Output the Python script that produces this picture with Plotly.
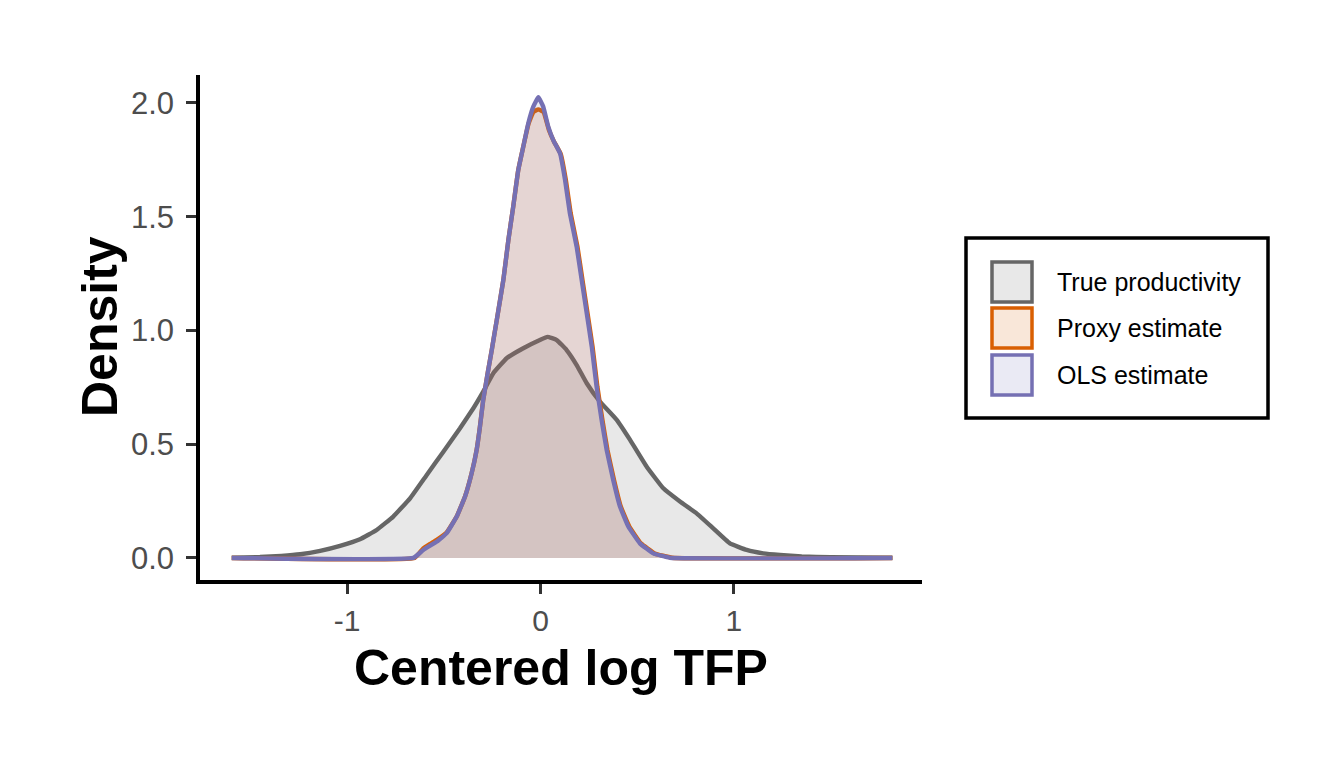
import plotly.graph_objects as go

# ---------------- data ----------------
x_true = [-1.596, -1.450, -1.340, -1.242, -1.139, -1.036, -0.933, -0.847, -0.761, -0.674,
          -0.588, -0.502, -0.416, -0.347, -0.296, -0.244, -0.175, -0.089, -0.003, 0.036,
          0.084, 0.135, 0.187, 0.239, 0.307, 0.394, 0.463, 0.549, 0.635, 0.721,
          0.807, 0.893, 0.979, 1.066, 1.151, 1.238, 1.350, 1.500, 1.819]
y_true = [0.001, 0.004, 0.009, 0.016, 0.031, 0.053, 0.082, 0.123, 0.182, 0.262,
          0.365, 0.467, 0.570, 0.658, 0.731, 0.812, 0.878, 0.922, 0.958, 0.972,
          0.958, 0.914, 0.848, 0.768, 0.687, 0.607, 0.519, 0.401, 0.306, 0.248,
          0.196, 0.130, 0.064, 0.035, 0.020, 0.013, 0.007, 0.003, 0.001]

x_ols = [-1.596, -0.657, -0.606, -0.536, -0.485, -0.433, -0.390, -0.356, -0.330, -0.313,
         -0.296, -0.273, -0.252, -0.226, -0.192, -0.166, -0.141, -0.115, -0.089, -0.063,
         -0.037, -0.011, 0.014, 0.040, 0.066, 0.101, 0.127, 0.152, 0.187, 0.213,
         0.239, 0.265, 0.290, 0.316, 0.342, 0.376, 0.411, 0.454, 0.514, 0.583,
         0.669, 1.819]
y_ols = [0.000, 0.000, 0.035, 0.072, 0.109, 0.182, 0.270, 0.372, 0.475, 0.577,
         0.695, 0.812, 0.914, 1.046, 1.222, 1.398, 1.544, 1.705, 1.808, 1.911,
         1.984, 2.025, 1.984, 1.896, 1.837, 1.779, 1.662, 1.515, 1.368, 1.222,
         1.076, 0.929, 0.753, 0.607, 0.475, 0.343, 0.226, 0.138, 0.064, 0.020,
         0.001, 0.000]

x_proxy = [-1.596, -0.650, -0.606, -0.570, -0.536, -0.485, -0.433, -0.390, -0.356, -0.330,
           -0.313, -0.296, -0.273, -0.252, -0.226, -0.192, -0.166, -0.141, -0.115, -0.089,
           -0.063, -0.037, -0.011, 0.016, 0.044, 0.070, 0.105, 0.131, 0.156, 0.191,
           0.217, 0.243, 0.269, 0.294, 0.320, 0.346, 0.380, 0.415, 0.459, 0.519,
           0.590, 0.680, 1.819]
y_proxy = [0.000, 0.000, 0.042, 0.062, 0.080, 0.112, 0.182, 0.270, 0.372, 0.475,
           0.577, 0.695, 0.812, 0.914, 1.046, 1.222, 1.398, 1.544, 1.705, 1.808,
           1.905, 1.960, 1.972, 1.960, 1.880, 1.830, 1.775, 1.662, 1.515, 1.368,
           1.222, 1.076, 0.929, 0.753, 0.607, 0.475, 0.343, 0.226, 0.138, 0.064,
           0.020, 0.001, 0.000]

series_names = ["True productivity", "Proxy estimate", "OLS estimate"]
line_colors = ["#666666", "#D95F02", "#7570B3"]
fill_colors = ["rgba(102,102,102,0.15)", "rgba(217,95,2,0.15)", "rgba(117,112,179,0.15)"]

x_tickvals = [-1, 0, 1]
x_ticktext = ["-1", "0", "1"]
y_tickvals = [0, 0.5, 1.0, 1.5, 2.0]
y_ticktext = ["0.0", "0.5", "1.0", "1.5", "2.0"]

x_title = "Centered log TFP"
y_title = "Density"

# ---------------- layout geometry ----------------
W, H = 1344, 768
PL, PR, PT, PB = 200, 922, 75, 580


def px_x(px):
    return (px - PL) / (PR - PL)


def px_y(py):
    return (PB - py) / (PB - PT)


FONT = "Liberation Sans, Arial, sans-serif"

fig = go.Figure()
for xs, ys, name, lc, fc in zip([x_true, x_proxy, x_ols], [y_true, y_proxy, y_ols],
                                series_names, line_colors, fill_colors):
    fig.add_trace(go.Scatter(
        x=xs, y=ys, name=name, mode="lines",
        line=dict(color=lc, width=4.4, shape="spline", smoothing=0.3),
        fill="tozeroy", fillcolor=fc, showlegend=False,
    ))

# ---------------- custom legend ----------------
shapes = []
annotations = []
shapes.append(dict(type="rect", xref="paper", yref="paper",
                   x0=px_x(966), x1=px_x(1268), y0=px_y(418), y1=px_y(238),
                   line=dict(color="black", width=3.5), fillcolor="white", layer="above"))
key_centers = [282, 328, 375]
for yc, name, lc, fc in zip(key_centers, series_names, line_colors, fill_colors):
    shapes.append(dict(type="rect", xref="paper", yref="paper",
                       x0=px_x(992), x1=px_x(1032), y0=px_y(yc + 20), y1=px_y(yc - 20),
                       line=dict(color=lc, width=3.5), fillcolor=fc, layer="above"))
    annotations.append(dict(text=name, xref="paper", yref="paper",
                            x=px_x(1055), y=px_y(yc), xanchor="left", yanchor="middle",
                            showarrow=False, font=dict(family=FONT, size=25, color="black")))

# axis titles
annotations.append(dict(text="<b>%s</b>" % x_title, xref="paper", yref="paper",
                        x=0.5, y=px_y(668), xanchor="center", yanchor="middle",
                        showarrow=False, font=dict(family=FONT, size=50, color="black")))
annotations.append(dict(text="<b>%s</b>" % y_title, xref="paper", yref="paper",
                        x=px_x(100), y=px_y(327), xanchor="center", yanchor="middle",
                        textangle=-90, showarrow=False,
                        font=dict(family=FONT, size=50, color="black")))

fig.update_layout(
    width=W, height=H,
    margin=dict(l=PL, r=W - PR, t=PT, b=H - PB, pad=0),
    paper_bgcolor="white", plot_bgcolor="white",
    shapes=shapes, annotations=annotations, showlegend=False,
    xaxis=dict(range=[-1.760, 1.972], tickvals=x_tickvals, ticktext=x_ticktext,
               showgrid=False, zeroline=False, showline=True, linecolor="black",
               linewidth=3.5, ticks="outside", ticklen=10, tickwidth=3,
               tickcolor="#333333", ticklabelstandoff=1,
               tickfont=dict(family=FONT, size=30, color="#4D4D4D")),
    yaxis=dict(range=[-0.097, 2.123], tickvals=y_tickvals, ticktext=y_ticktext,
               showgrid=False, zeroline=False, showline=True, linecolor="black",
               linewidth=3.5, ticks="outside", ticklen=10, tickwidth=3,
               tickcolor="#333333", ticklabelstandoff=6,
               tickfont=dict(family=FONT, size=31, color="#4D4D4D")),
)

fig.write_html("out.html")
